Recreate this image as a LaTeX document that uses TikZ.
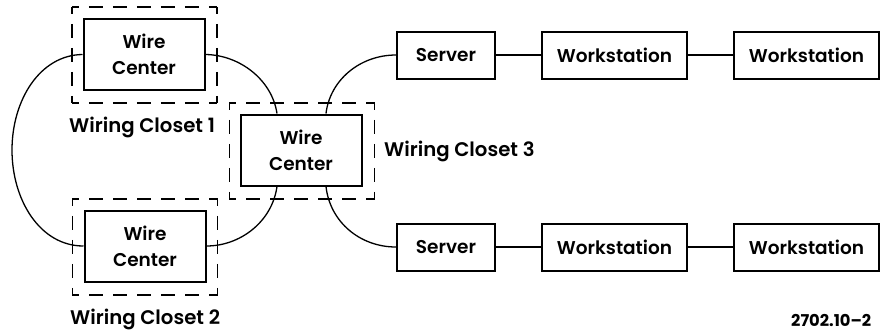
\documentclass[tikz,border=0pt]{standalone}
\usepackage{fontspec}
\setmainfont{Poppins SemiBold}
\newcommand{\closetframe}[1]{%
  \draw[closetdash] (#1.north west) -- (#1.north east);
  \draw[closetdash] (#1.south west) -- (#1.south east);
  \draw[closetdash] (#1.north west) -- (#1.south west);
  \draw[closetdash] (#1.north east) -- (#1.south east);
}
\tikzset{
  box/.style={draw=black,line width=2pt,rectangle,align=center,inner sep=0pt,font=\fontsize{18.5}{26}\selectfont,text=black},
  wcbox/.style={box,minimum width=121pt,minimum height=71pt},
  srvbox/.style={box,minimum width=98pt,minimum height=47pt},
  wsbox/.style={box,minimum width=145pt,minimum height=47pt},
  closet/.style={rectangle,inner sep=0pt,minimum width=145pt,minimum height=96pt},
  closetdash/.style={draw=black,line width=1.5pt,dash pattern=on 14pt off 10pt,dash phase=7pt},
  wire/.style={draw=black,line width=1.3pt},
  lbl/.style={font=\fontsize{19.7}{24}\selectfont,text=black,inner sep=0pt},
}
\begin{document}
\begin{tikzpicture}[x=1pt,y=-1pt]
\useasboundingbox (0,0) rectangle (880,330);
\node[closet] (c1) at (144.5,55) {};
\node[closet] (c2) at (145,247) {};
\node[closet] (c3) at (302,151) {};
\closetframe{c1}
\closetframe{c2}
\closetframe{c3}
\node[wcbox] (wc1) at (144,54.5) {Wire\\Center};
\node[wcbox] (wc2) at (145,246) {Wire\\Center};
\node[wcbox] (wc3) at (301,150) {Wire\\Center};
\node[srvbox] (s1) at (446,55) {Server};
\node[wsbox] (w1) at (614.5,55) {Workstation};
\node[wsbox] (w2) at (806.5,55) {Workstation};
\node[srvbox] (s2) at (446,247) {Server};
\node[wsbox] (w3) at (614.5,247) {Workstation};
\node[wsbox] (w4) at (806.5,247) {Workstation};
\node[lbl,anchor=base west] (l1) at (69,132) {Wiring Closet 1};
\node[lbl,anchor=base west] (l2) at (70,324) {Wiring Closet 2};
\node[lbl,anchor=base west] (l3) at (384,156) {Wiring Closet 3};
\node[lbl,anchor=base west,font=\fontsize{16.3}{20}\selectfont] (l4) at (791,326) {\fontspec{Poppins}\bfseries 2702.10–2};
\draw[wire] (wc1.west) .. controls (40,55) and (12,100) .. (12,150) .. controls (12,200) and (40,246) .. (wc2.west);
\draw[wire] (wc1.east) .. controls (240,55) and (272,80) .. ([xshift=-24pt]wc3.north);
\draw[wire] (s1.west) .. controls (360,55) and (330,80) .. ([xshift=25pt]wc3.north);
\draw[wire] (wc2.east) .. controls (240,246) and (272,222) .. ([xshift=-24pt]wc3.south);
\draw[wire] (s2.west) .. controls (360,247) and (330,222) .. ([xshift=25pt]wc3.south);
\draw[wire] (s1) -- (w1);
\draw[wire] (w1) -- (w2);
\draw[wire] (s2) -- (w3);
\draw[wire] (w3) -- (w4);
\end{tikzpicture}
\end{document}
